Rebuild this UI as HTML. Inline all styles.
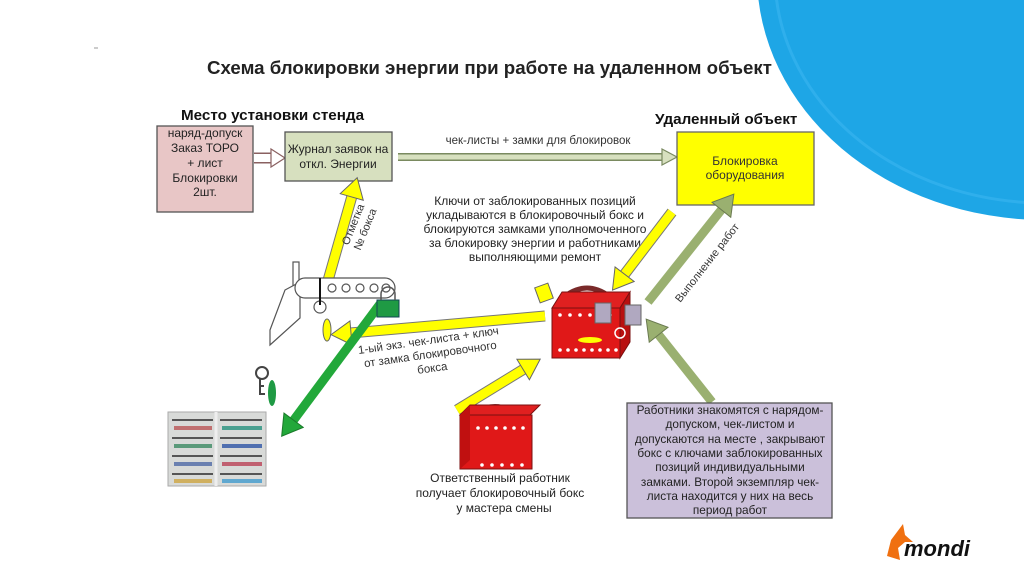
<!DOCTYPE html>
<html><head><meta charset="utf-8"><style>
html,body{margin:0;padding:0;background:#fff;}
svg{display:block;font-family:"Liberation Sans",sans-serif;}
</style></head><body>
<svg width="1024" height="574" viewBox="0 0 1024 574" xmlns="http://www.w3.org/2000/svg">
<defs>
<marker id="hy" markerUnits="userSpaceOnUse" markerWidth="22" markerHeight="26" refX="2" refY="13" orient="auto"><polygon points="1,1 21,13 1,25" fill="#ffff00" stroke="#666" stroke-width="1"/></marker>
<marker id="hg" markerUnits="userSpaceOnUse" markerWidth="22" markerHeight="26" refX="2" refY="13" orient="auto"><polygon points="1,1 21,13 1,25" fill="#22a83a" stroke="#1a7a2a" stroke-width="1"/></marker>
<marker id="hl" markerUnits="userSpaceOnUse" markerWidth="22" markerHeight="26" refX="2" refY="13" orient="auto"><polygon points="1,1 21,13 1,25" fill="#9ab070" stroke="#6a7a50" stroke-width="1"/></marker>
</defs>

<line x1="94" y1="48" x2="98" y2="48" stroke="#999"/>
<text x="207" y="74" font-size="18.7" font-weight="bold" fill="#222">Схема блокировки энергии при работе на удаленном объект</text>

<ellipse cx="1045" cy="-25" rx="288" ry="245" fill="#1ea6e6"/>
<ellipse cx="1045" cy="-25" rx="270" ry="228" fill="none" stroke="#3ab6f0" stroke-width="3" opacity="0.6"/>

<text x="181" y="120" font-size="15.2" font-weight="bold" fill="#111">Место установки стенда</text>
<text x="655" y="124" font-size="15.2" font-weight="bold" fill="#111">Удаленный объект</text>

<rect x="157" y="126" width="96" height="86" fill="#e8c6c6" stroke="#555" stroke-width="1.3"/>
<g font-size="12" fill="#222" text-anchor="middle">
<text x="205" y="137">наряд-допуск</text><text x="205" y="152">Заказ ТОРО</text><text x="205" y="167">+ лист</text><text x="205" y="182">Блокировки</text><text x="205" y="196">2шт.</text>
</g>
<line x1="254" y1="158" x2="272" y2="158" stroke="#8a6060" stroke-width="11"/>
<line x1="254" y1="158" x2="272" y2="158" stroke="#fff" stroke-width="8"/>
<polygon points="271,149 285,158 271,167" fill="#fff" stroke="#8a6060" stroke-width="1.2"/>

<rect x="285" y="132" width="107" height="49" fill="#d7e0bf" stroke="#555" stroke-width="1.3"/>
<text x="338" y="153" font-size="12" fill="#222" text-anchor="middle">Журнал заявок на</text>
<text x="338" y="168" font-size="12" fill="#222" text-anchor="middle">откл. Энергии</text>

<line x1="398" y1="157" x2="663" y2="157" stroke="#7a8a60" stroke-width="8"/>
<line x1="398" y1="157" x2="663" y2="157" stroke="#d7e0bf" stroke-width="5"/>
<polygon points="662,149 677,157 662,165" fill="#d7e0bf" stroke="#7a8a60" stroke-width="1.2"/>
<text x="538" y="144" font-size="11.5" fill="#333" text-anchor="middle">чек-листы + замки  для блокировок</text>

<rect x="677" y="132" width="137" height="73" fill="#ffff00" stroke="#666" stroke-width="1.3"/>
<text x="745" y="165" font-size="12" fill="#333" text-anchor="middle">Блокировка</text>
<text x="745" y="179" font-size="12" fill="#333" text-anchor="middle">оборудования</text>

<g font-size="12" fill="#222" text-anchor="middle">
<text x="535" y="205">Ключи от заблокированных позиций</text>
<text x="535" y="219">укладываются в блокировочный бокс и</text>
<text x="535" y="233">блокируются замками уполномоченного</text>
<text x="535" y="247">за блокировку энергии  и работниками</text>
<text x="535" y="261">выполняющими ремонт</text>
</g>

<line x1="325" y1="291" x2="352" y2="196" stroke="#777" stroke-width="11"/>
<line x1="325" y1="291" x2="352" y2="196" stroke="#ffff00" stroke-width="9" marker-end="url(#hy)"/>
<text transform="translate(362,228) rotate(-68)" font-size="11" fill="#333" text-anchor="middle"><tspan x="0" y="-6">Отметка</tspan><tspan x="0" y="7">№ бокса</tspan></text>

<line x1="545" y1="316" x2="350" y2="333" stroke="#777" stroke-width="11"/>
<line x1="545" y1="316" x2="350" y2="333" stroke="#ffff00" stroke-width="9" marker-end="url(#hy)"/>
<text transform="translate(430,352) rotate(-8)" font-size="11.5" fill="#333" text-anchor="middle"><tspan x="0" y="-8">1-ый экз. чек-листа + ключ</tspan><tspan x="0" y="6">от замка блокировочного</tspan><tspan x="0" y="20">бокса</tspan></text>

<line x1="380" y1="304" x2="293" y2="421" stroke="#22a83a" stroke-width="9" marker-end="url(#hg)"/>

<line x1="672" y1="212" x2="624" y2="275" stroke="#777" stroke-width="11"/>
<line x1="672" y1="212" x2="624" y2="275" stroke="#ffff00" stroke-width="9" marker-end="url(#hy)"/>

<line x1="648" y1="302" x2="722" y2="209" stroke="#9ab070" stroke-width="9" marker-end="url(#hl)"/>
<text transform="translate(710,265) rotate(-52)" font-size="11" fill="#333" text-anchor="middle">Выполнение  работ</text>
<line x1="712" y1="402" x2="658" y2="334" stroke="#9ab070" stroke-width="9" marker-end="url(#hl)"/>

<line x1="457" y1="410" x2="524" y2="369" stroke="#777" stroke-width="11"/>
<line x1="457" y1="410" x2="524" y2="369" stroke="#ffff00" stroke-width="9" marker-end="url(#hy)"/>

<g stroke="#555" stroke-width="1.2" fill="#fff">
<rect x="293" y="262" width="6" height="25"/>
<polygon points="300,282 285,290 270,330 270,345 300,318"/>
<rect x="295" y="278" width="100" height="20" rx="10"/>
<circle cx="332" cy="288" r="4"/><circle cx="346" cy="288" r="4"/><circle cx="360" cy="288" r="4"/><circle cx="374" cy="288" r="4"/><circle cx="386" cy="288" r="4"/>
<circle cx="320" cy="307" r="6"/>
</g>
<line x1="320" y1="278" x2="320" y2="305" stroke="#111" stroke-width="2"/>
<rect x="377" y="300" width="22" height="17" fill="#1f9a44" stroke="#145"/>
<path d="M381,300 v-6 a7,7 0 0 1 14,0 v6" fill="none" stroke="#555" stroke-width="1.5"/>
<ellipse cx="327" cy="330" rx="4" ry="11" fill="#ffff00" stroke="#666"/>

<circle cx="262" cy="373" r="6" fill="#fff" stroke="#444" stroke-width="2"/>
<path d="M260,379 v15 h5 M260,386 h4" fill="none" stroke="#444" stroke-width="2"/>
<ellipse cx="272" cy="393" rx="4" ry="13" fill="#1f9a44"/>

<rect x="168" y="412" width="98" height="74" fill="#d8dad8" stroke="#aaa"/>
<g stroke-width="4">
<line x1="174" y1="428" x2="212" y2="428" stroke="#c07070"/>
<line x1="174" y1="446" x2="212" y2="446" stroke="#5a9a7a"/>
<line x1="174" y1="464" x2="212" y2="464" stroke="#6a80b0"/>
<line x1="174" y1="481" x2="212" y2="481" stroke="#d0b060"/>
<line x1="222" y1="428" x2="262" y2="428" stroke="#4aa090"/>
<line x1="222" y1="446" x2="262" y2="446" stroke="#5070b0"/>
<line x1="222" y1="464" x2="262" y2="464" stroke="#c06070"/>
<line x1="222" y1="481" x2="262" y2="481" stroke="#60a8d0"/>
</g>
<g stroke="#555" stroke-width="2">
<line x1="172" y1="420" x2="213" y2="420"/><line x1="172" y1="438" x2="213" y2="438"/><line x1="172" y1="456" x2="213" y2="456"/><line x1="172" y1="474" x2="213" y2="474"/>
<line x1="220" y1="420" x2="262" y2="420"/><line x1="220" y1="438" x2="262" y2="438"/><line x1="220" y1="456" x2="262" y2="456"/><line x1="220" y1="474" x2="262" y2="474"/>
</g>
<line x1="216" y1="412" x2="216" y2="486" stroke="#eee" stroke-width="3"/>

<path d="M565,296 q22,-16 44,0" fill="none" stroke="#7a2a2a" stroke-width="5"/>
<polygon points="552,308 562,292 630,292 620,308" fill="#e02020" stroke="#7a1010"/>
<rect x="552" y="308" width="68" height="50" fill="#e01818" stroke="#7a1010"/>
<polygon points="620,308 630,292 630,342 620,358" fill="#b81010" stroke="#7a1010"/>
<g fill="#fff"><circle cx="560" cy="315" r="1.8"/><circle cx="570" cy="315" r="1.8"/><circle cx="580" cy="315" r="1.8"/><circle cx="590" cy="315" r="1.8"/><circle cx="600" cy="315" r="1.8"/><circle cx="610" cy="315" r="1.8"/>
<circle cx="560" cy="350" r="1.8"/><circle cx="568" cy="350" r="1.8"/><circle cx="576" cy="350" r="1.8"/><circle cx="584" cy="350" r="1.8"/><circle cx="592" cy="350" r="1.8"/><circle cx="600" cy="350" r="1.8"/><circle cx="608" cy="350" r="1.8"/><circle cx="616" cy="350" r="1.8"/></g>
<ellipse cx="590" cy="340" rx="12" ry="3" fill="#ffff00"/>
<circle cx="620" cy="333" r="5" fill="none" stroke="#fff" stroke-width="1.5"/>
<rect x="595" y="303" width="16" height="20" fill="#b0a8c0" stroke="#666"/>
<rect x="625" y="305" width="16" height="20" fill="#b0a8c0" stroke="#666"/>
<rect x="537" y="285" width="14" height="16" fill="#ffff00" stroke="#666" transform="rotate(-20 544 293)"/>

<path d="M475,412 q20,-12 40,0" fill="none" stroke="#7a3a3a" stroke-width="4"/>
<polygon points="460,415 470,405 540,405 530,415" fill="#e02020" stroke="#7a1010"/>
<rect x="460" y="415" width="72" height="54" fill="#e01818" stroke="#7a1010"/>
<polygon points="460,415 470,405 470,460 460,469" fill="#c01010"/>
<g fill="#fff"><circle cx="478" cy="428" r="1.8"/><circle cx="487" cy="428" r="1.8"/><circle cx="496" cy="428" r="1.8"/><circle cx="505" cy="428" r="1.8"/><circle cx="514" cy="428" r="1.8"/><circle cx="523" cy="428" r="1.8"/>
<circle cx="482" cy="465" r="1.8"/><circle cx="492" cy="465" r="1.8"/><circle cx="502" cy="465" r="1.8"/><circle cx="512" cy="465" r="1.8"/><circle cx="522" cy="465" r="1.8"/></g>
<g font-size="12" fill="#222" text-anchor="middle">
<text x="500" y="482">Ответственный работник</text>
<text x="500" y="497">получает блокировочный бокс</text>
<text x="504" y="512">у мастера смены</text>
</g>

<rect x="627" y="403" width="205" height="115" fill="#cbc0da" stroke="#555" stroke-width="1.3"/>
<g font-size="11.8" fill="#222" text-anchor="middle">
<text x="730" y="414">Работники знакомятся с нарядом-</text>
<text x="730" y="428">допуском, чек-листом и</text>
<text x="730" y="443">допускаются на месте   , закрывают</text>
<text x="730" y="457">бокс с ключами заблокированных</text>
<text x="730" y="471">позиций индивидуальными</text>
<text x="730" y="486">замками. Второй экземпляр чек-</text>
<text x="730" y="500">листа находится у них на весь</text>
<text x="730" y="514">период работ</text>
</g>

<polygon points="903,524 891,540 887,556 900,560 898,548 905,542 913,542 905,535" fill="#f07010"/>
<text x="904" y="556" font-size="22" font-weight="bold" font-style="italic" fill="#111">mondi</text>
</svg>
</body></html>
